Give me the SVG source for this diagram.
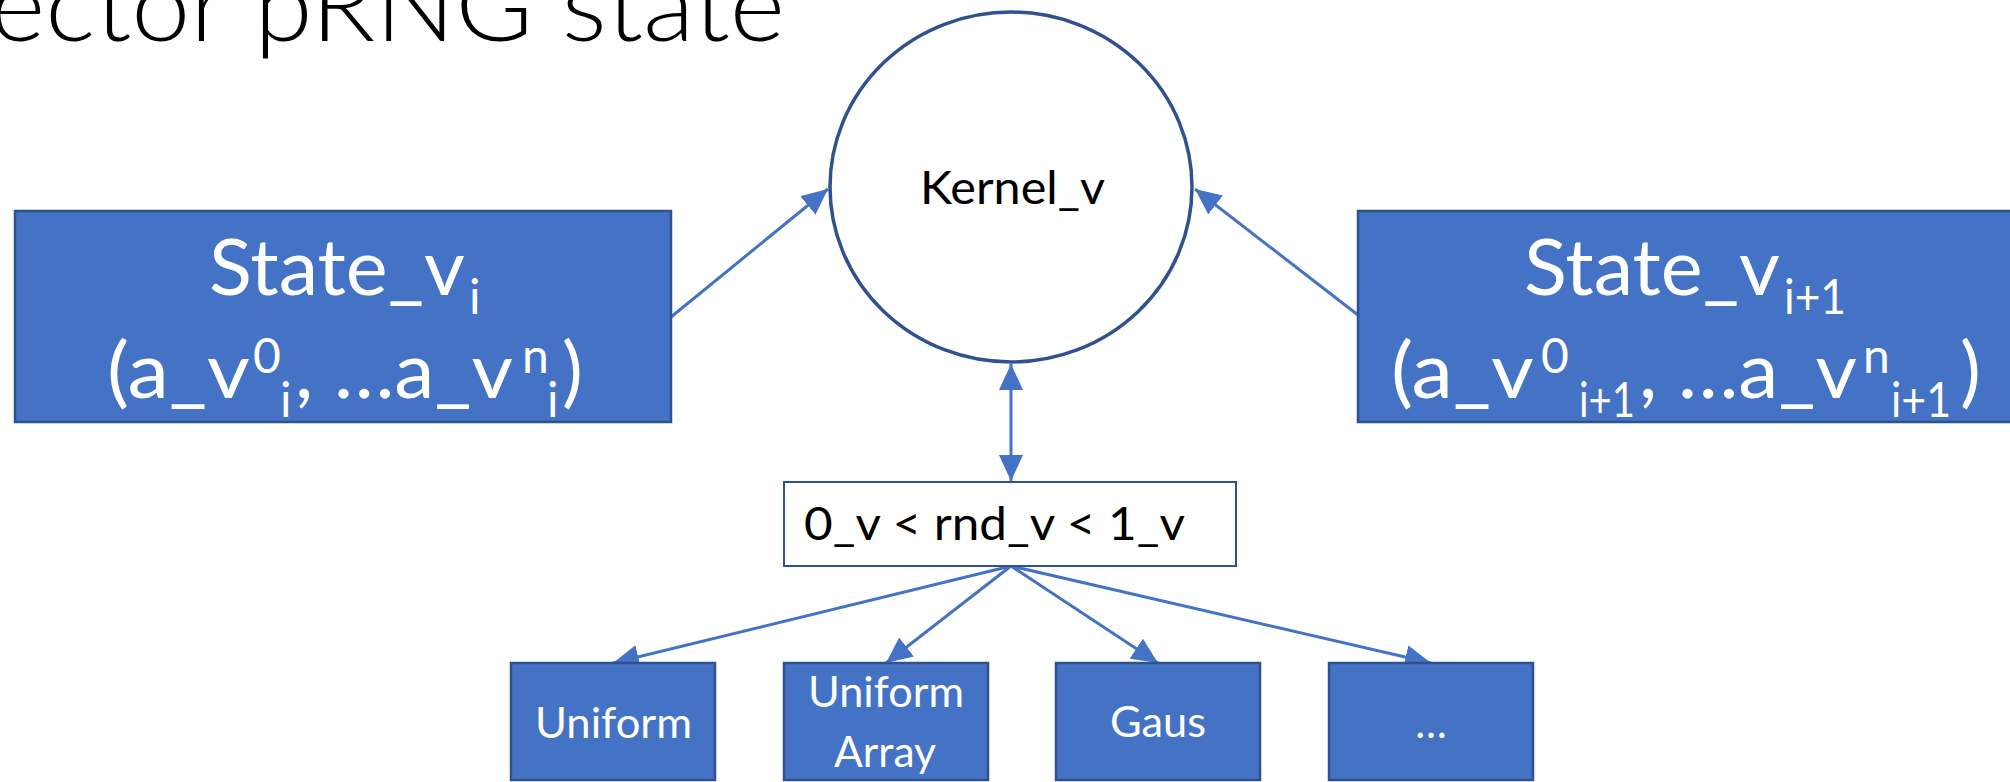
<svg xmlns="http://www.w3.org/2000/svg" width="2010" height="782" viewBox="0 0 2010 782">
<style>
.box{fill:#4472C4;stroke:#2F528F;stroke-width:2.5}
.wbox{fill:#FFFFFF;stroke:#2F528F;stroke-width:2}
.circ{fill:#FFFFFF;stroke:#2F528F;stroke-width:3.5}
.wt{fill:#FFFFFF;font-family:Lato,"Liberation Sans",sans-serif}
.bt{fill:#000000;font-family:Lato,"Liberation Sans",sans-serif}
.big{font-size:78px}
.ss{font-size:48px}
.mid{font-size:46px}
.sm{font-size:42px}
.conn{stroke:#4472C4;stroke-width:3;fill:none}
</style>
<defs>
<marker id="arr" markerUnits="userSpaceOnUse" markerWidth="26" markerHeight="24" refX="26" refY="12" orient="auto-start-reverse" viewBox="0 0 26 24">
<path d="M0,0 L26,12 L0,24 z" fill="#4472C4"/>
</marker>
</defs>
<rect width="2010" height="782" fill="#FFFFFF"/>
<g id="title">
<text class="bt" x="-10" y="41" font-size="100" font-weight="300" textLength="795" lengthAdjust="spacingAndGlyphs">ector pRNG state</text>
</g>
<g id="connectors">
<line class="conn" x1="671" y1="317" x2="828" y2="189" marker-end="url(#arr)"/>
<line class="conn" x1="1358" y1="315" x2="1195" y2="189" marker-end="url(#arr)"/>
<line class="conn" x1="1011" y1="364" x2="1011" y2="481" marker-start="url(#arr)" marker-end="url(#arr)"/>
<line class="conn" x1="1011" y1="566" x2="613" y2="663" marker-end="url(#arr)"/>
<line class="conn" x1="1011" y1="566" x2="886" y2="663" marker-end="url(#arr)"/>
<line class="conn" x1="1011" y1="566" x2="1158" y2="663" marker-end="url(#arr)"/>
<line class="conn" x1="1011" y1="566" x2="1431" y2="663" marker-end="url(#arr)"/>
</g>
<g id="kernel">
<ellipse class="circ" cx="1011" cy="187" rx="181" ry="175"/>
<text class="bt mid" x="920" y="204" textLength="185" lengthAdjust="spacingAndGlyphs">Kernel_v</text>
</g>
<g id="state-i">
<rect class="box" x="15" y="211" width="656" height="211"/>
<text class="wt big" x="209" y="295" textLength="256" lengthAdjust="spacingAndGlyphs">State_v</text>
<text class="wt ss" x="469" y="314">i</text>
<text class="wt big" x="107" y="398" textLength="143" lengthAdjust="spacingAndGlyphs">(a_v</text>
<text class="wt ss" x="253" y="373">0</text>
<text class="wt ss" x="280" y="417">i</text>
<text class="wt big" x="295" y="398" textLength="218" lengthAdjust="spacingAndGlyphs">, …a_v</text>
<text class="wt ss" x="522" y="373">n</text>
<text class="wt ss" x="547" y="417">i</text>
<text class="wt big" x="562" y="398">)</text>
</g>
<g id="state-i1">
<rect class="box" x="1358" y="211" width="660" height="211"/>
<text class="wt big" x="1524" y="295" textLength="256" lengthAdjust="spacingAndGlyphs">State_v</text>
<text class="wt ss" x="1784" y="314" textLength="62" lengthAdjust="spacingAndGlyphs">i+1</text>
<text class="wt big" x="1391" y="398" textLength="143" lengthAdjust="spacingAndGlyphs">(a_v</text>
<text class="wt ss" x="1541" y="373">0</text>
<text class="wt ss" x="1579" y="417" textLength="56" lengthAdjust="spacingAndGlyphs">i+1</text>
<text class="wt big" x="1639" y="398" textLength="218" lengthAdjust="spacingAndGlyphs">, …a_v</text>
<text class="wt ss" x="1863" y="373">n</text>
<text class="wt ss" x="1891" y="417" textLength="60" lengthAdjust="spacingAndGlyphs">i+1</text>
<text class="wt big" x="1960" y="398">)</text>
</g>
<g id="rnd">
<rect class="wbox" x="784" y="482" width="452" height="84"/>
<text class="bt mid" x="804" y="540" textLength="381" lengthAdjust="spacingAndGlyphs">0_v &lt; rnd_v &lt; 1_v</text>
</g>
<g id="uniform">
<rect class="box" x="511" y="663" width="204" height="117"/>
<text class="wt sm" x="535" y="738" textLength="157" lengthAdjust="spacingAndGlyphs">Uniform</text>
</g>
<g id="uniform-array">
<rect class="box" x="784" y="663" width="204" height="117"/>
<text class="wt sm" x="808" y="707" textLength="156" lengthAdjust="spacingAndGlyphs">Uniform</text>
<text class="wt sm" x="834" y="767" textLength="102" lengthAdjust="spacingAndGlyphs">Array</text>
</g>
<g id="gaus">
<rect class="box" x="1056" y="663" width="204" height="117"/>
<text class="wt sm" x="1110" y="737" textLength="96" lengthAdjust="spacingAndGlyphs">Gaus</text>
</g>
<g id="more">
<rect class="box" x="1329" y="663" width="204" height="117"/>
<text class="wt sm" x="1431" y="738" text-anchor="middle">…</text>
</g>
</svg>
